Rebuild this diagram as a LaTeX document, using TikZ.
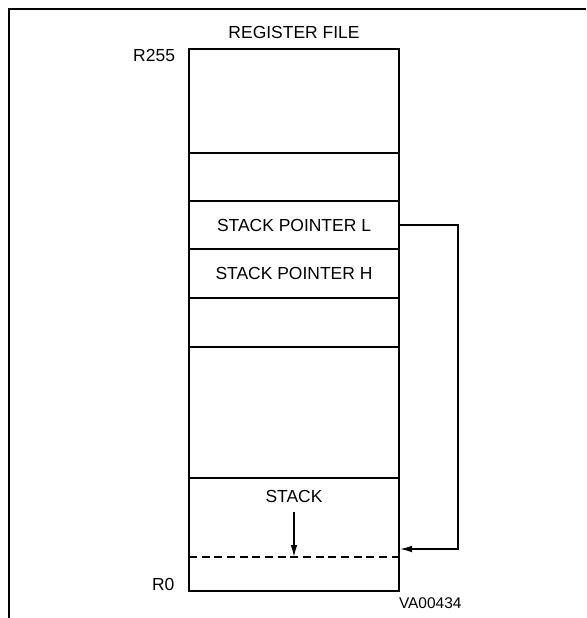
\documentclass[tikz,border=0pt]{standalone}
\usepackage{fontspec}
\setmainfont{Liberation Sans}
\usepackage{tikz}
\usetikzlibrary{arrows.meta,positioning}

\begin{document}
\begin{tikzpicture}[x=0.75pt,y=-0.75pt,
  every node/.style={font=\fontsize{13.1}{15}\selectfont,inner sep=0pt,outer sep=0pt},
  cell/.style={draw,line width=1.2pt,minimum width=157.5pt,anchor=north},
  ptr/.style={line width=1.1pt,-{Latex[length=9pt,width=5pt]}}]
\useasboundingbox (0,0) rectangle (586,618);
% page frame, open on the right and at the bottom
\draw[line width=1.6pt] (9,618) -- (9,9) -- (586,9);
% the register cells, R255 at the top
\node[cell,minimum height=78pt] (top) at (294,49) {};
\node[cell,minimum height=36pt] (free) at (294,153) {};
\node[cell,minimum height=36pt] (spl) at (294,201) {STACK POINTER L};
\node[cell,minimum height=36.75pt] (sph) at (294,249) {STACK POINTER H};
\node[cell,minimum height=36.75pt] (blank) at (294,298) {};
\node[cell,minimum height=98.25pt] (gap) at (294,347) {};
\node[cell,minimum height=84.75pt] (stack) at (294,478) {};
\draw[line width=2pt] (top.north west) rectangle (stack.south east);
% labels round the file
\node[above=7.5pt of top] (title) {REGISTER FILE};
\node[anchor=north east] (r255) at ([xshift=-10.5pt]top.north west) {R255};
\node[anchor=south east] (r0) at ([xshift=-11pt]stack.south west) {R0};
\node[anchor=north west,font=\fontsize{11.6}{13}\selectfont] (fig) at ([yshift=-5pt]stack.south east) {VA00434};
\node[below=9pt of stack.north] (stacklbl) {STACK};
% top of stack
\coordinate (tosw) at (189,557);
\coordinate (tose) at (399,557);
\coordinate (tos) at (294,557);
\draw[line width=1.2pt,dash pattern=on 6pt off 3.5pt] (tosw) -- (tose);
\draw[ptr] ([yshift=-7.5pt]stacklbl.south) -- (tos);
% stack pointer points at the top of stack
\coordinate (ptrend) at (400,549);
\draw[ptr] (spl.east) -- ++(59,0) |- (ptrend);
\end{tikzpicture}
\end{document}
